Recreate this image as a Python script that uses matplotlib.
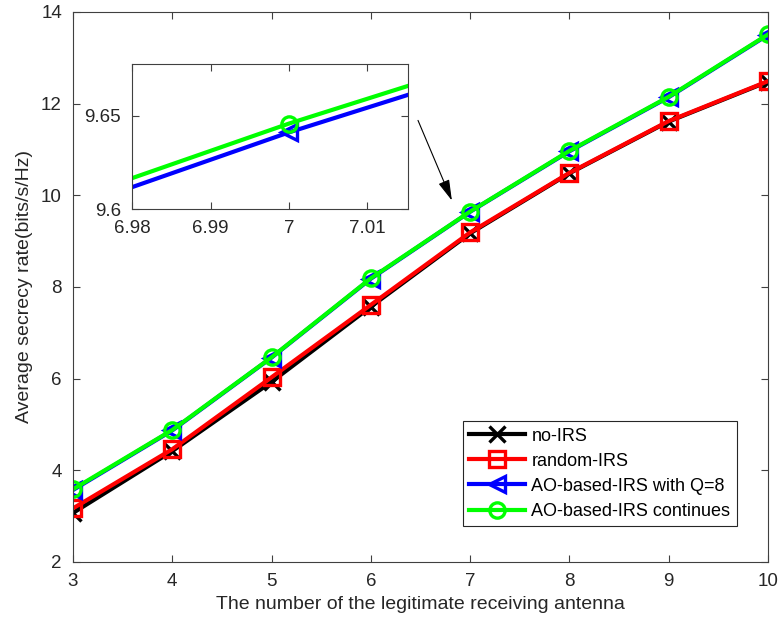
import matplotlib
matplotlib.use("Agg")
import matplotlib.pyplot as plt

plt.rcParams['font.family'] = ['Liberation Sans', 'DejaVu Sans']

antennas = [3, 4, 5, 6, 7, 8, 9, 10]
no_irs = [3.07, 4.42, 5.93, 7.57, 9.17, 10.48, 11.61, 12.48]
random_irs = [3.17, 4.46, 6.03, 7.61, 9.19, 10.49, 11.62, 12.49]
ao_q8 = [3.57, 4.87, 6.46, 8.18, 9.641, 10.96, 12.14, 13.50]
ao_cont = [3.586, 4.88, 6.466, 8.19, 9.6457, 10.97, 12.15, 13.51]

series = [
    (no_irs, 'no-IRS', 'black', 'x'),
    (random_irs, 'random-IRS', 'red', 's'),
    (ao_q8, 'AO-based-IRS with Q=8', 'blue', '<'),
    (ao_cont, 'AO-based-IRS continues', '#00ff00', 'o'),
]

axis_col = '#404040'


def style_axes(ax):
    for sp in ax.spines.values():
        sp.set_color(axis_col)
        sp.set_linewidth(0.8)
    ax.tick_params(direction='in', top=True, right=True, colors=axis_col,
                   labelcolor='#262626', labelsize=13.5, length=5, pad=8)


fig = plt.figure(figsize=(7.8, 6.3), dpi=100)
ax = fig.add_axes([0.0936, 0.108, 0.891, 0.873])

for vals, lab, col, mk in series:
    ax.plot(antennas, vals, color=col, marker=mk, lw=3, ms=11,
            mfc='none', mew=2.4, label=lab)

ax.set_xlim(3, 10)
ax.set_ylim(2, 14)
ax.set_xticks(antennas)
ax.set_yticks([2, 4, 6, 8, 10, 12, 14])
style_axes(ax)
ax.set_xlabel('The number of the legitimate receiving antenna', fontsize=14,
              color='#262626', labelpad=4)
ax.set_ylabel('Average secrecy rate(bits/s/Hz)', fontsize=14, color='#262626',
              labelpad=6)

leg = ax.legend(loc='lower right', bbox_to_anchor=(0.955, 0.065), fontsize=13,
                fancybox=False, framealpha=1, edgecolor='#262626',
                handlelength=3.1, borderpad=0.35, labelspacing=0.45,
                handletextpad=0.35, borderaxespad=0)
leg.get_frame().set_linewidth(0.8)

ax.annotate('', xy=(6.827, 9.83), xytext=(6.464, 11.69),
            arrowprops=dict(arrowstyle='-|>,head_width=0.22,head_length=0.8',
                            color='black', lw=0.8, mutation_scale=16))

ins = fig.add_axes([0.1695, 0.668, 0.3535, 0.230])
for vals, lab, col, mk in series[2:]:
    ins.plot(antennas, vals, color=col, marker=mk, lw=3, ms=11,
             mfc='none', mew=2.4)
ins.set_xlim(6.98, 7.0152)
ins.set_ylim(9.6, 9.6774)
ins.set_xticks([6.98, 6.99, 7, 7.01])
ins.set_xticklabels(['6.98', '6.99', '7', '7.01'])
ins.set_yticks([9.6, 9.65])
ins.set_yticklabels(['9.6', '9.65'])
style_axes(ins)

fig.savefig('out.png', dpi=100)
